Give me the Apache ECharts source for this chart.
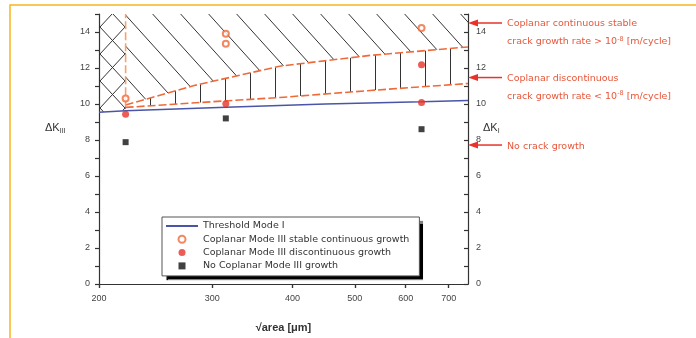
<!DOCTYPE html>
<html lang="en">
<head>
    <meta charset="UTF-8">
    <title>Crack growth map</title>
    <style>
        html, body { margin: 0; padding: 0; background: #fff; }
        #main { width: 696px; height: 338px; }
    </style>
</head>
<body>
    <div id="main"></div>
    <script src="https://cdn.jsdelivr.net/npm/echarts@6/dist/echarts.min.js"></script>
    <script>
        // values: x = sqrt(area) [um], y = delta K
        const xTicks = [200, 300, 400, 500, 600, 700];
        const yLabels = [0, 2, 4, 6, 8, 10, 12, 14];
        const threshold = [[200, 9.54], [220, 9.62], [315, 9.82], [450, 10.0], [635, 10.13], [750, 10.2]];
        const stableGrowth = [[220, 10.3], [315, 13.9], [315, 13.35], [635, 14.22]];
        const discGrowth = [[220, 9.43], [315, 10.02], [635, 12.18], [635, 10.09]];
        const noGrowth = [[220, 7.88], [315, 9.2], [635, 8.6]];
        const upperBound = [[220, 9.95], [283, 11.05], [382, 12.1], [528, 12.7], [750, 13.17]];
        const lowerBound = [[220, 9.81], [283, 10.07], [382, 10.36], [528, 10.75], [750, 11.14]];
        const leftBound = [[220, 9.88], [220, 15]];
        const crossBound = [[200, 9.54], [220, 9.65]];
        const noteLevels = [14.5, 11.47, 7.72];
        const noteTexts = [
            ['Coplanar continuous stable', 'crack growth rate > 10{sup|-8} [m/cycle]'],
            ['Coplanar discontinuous', 'crack growth rate < 10{sup|-8} [m/cycle]'],
            ['No crack growth']
        ];
        const legendNames = [
            'Threshold Mode I',
            'Coplanar Mode III stable continuous growth',
            'Coplanar Mode III discontinuous growth',
            'No Coplanar Mode III growth'
        ];

        const xMin = 200, xMax = 750, yMax = 15;
        const orange = '#ef6a3a';
        const red = '#e8322a';
        const blue = '#4a55a8';
        const font = 'Liberation Sans, Arial, sans-serif';
        const wideFont = 'DejaVu Sans, Verdana, sans-serif';

        function hatch(w, h, draw) {
            const c = document.createElement('canvas');
            c.width = w; c.height = h;
            const ctx = c.getContext('2d');
            ctx.strokeStyle = '#333';
            ctx.lineWidth = 1;
            ctx.beginPath();
            draw(ctx, w, h);
            ctx.stroke();
            return { image: c, repeat: 'repeat' };
        }
        const diagFill = hatch(28, 31, (ctx, w, h) => {
            for (let k = -1; k <= 1; k++) { ctx.moveTo(k * w, 0); ctx.lineTo(k * w + w, h); }
        });
        const vertFill = hatch(25, 4, (ctx, w, h) => {
            ctx.moveTo(0.5, 0); ctx.lineTo(0.5, h);
        });
        const crossFill = hatch(25, 27, (ctx, w, h) => {
            ctx.moveTo(0, 0); ctx.lineTo(w, h);
            ctx.moveTo(w, 0); ctx.lineTo(0, h);
        });

        function region(points, fill) {
            return {
                type: 'custom',
                silent: true,
                z: 1,
                data: [points[0]],
                renderItem: function (params, api) {
                    if (params.dataIndex !== 0) return;
                    return {
                        type: 'polygon',
                        shape: { points: points.map(p => api.coord(p)) },
                        style: { fill: fill, stroke: null }
                    };
                }
            };
        }

        const stablePoly = [[upperBound[0][0], yMax]].concat(upperBound, [[xMax, yMax]]);
        const discPoly = upperBound.concat(lowerBound.slice().reverse());
        const crossPoly = crossBound.concat([[crossBound[1][0], yMax], [crossBound[0][0], yMax]]);

        const axisText = { fontSize: 9, color: '#444', fontFamily: font };
        const lineStyle = { color: '#333', width: 1.2 };

        // two stacked legends: the lower one carries the drop shadow, the upper one the border
        const legendBase = {
            left: 162, top: 217, orient: 'vertical',
            padding: [4, 10, 5, 3], itemGap: 3.3, itemWidth: 32, itemHeight: 7,
            textStyle: { fontSize: 9.5, color: '#333', fontFamily: wideFont },
            data: [{ name: legendNames[0], itemStyle: { opacity: 0 } }].concat(legendNames.slice(1))
        };

        var chartDom = document.getElementById('main');
        var myChart = echarts.init(chartDom);
        var option = {
            animation: false,
            grid: { left: 99, right: 228, top: 14, bottom: 51 },
            xAxis: [
                {
                    type: 'log', logBase: 10, min: xMin, max: xMax,
                    name: '\u221Aarea [\u03BCm]', nameLocation: 'middle', nameGap: 38,
                    nameTextStyle: { fontSize: 11, color: '#333', fontFamily: font, fontWeight: 'bold' },
                    axisLine: { lineStyle: lineStyle },
                    axisTick: { customValues: xTicks, length: 4, lineStyle: lineStyle },
                    axisLabel: Object.assign({ customValues: xTicks, margin: 10 }, axisText),
                    splitLine: { show: false }, minorTick: { show: false }
                },
                {
                    type: 'log', logBase: 10, min: xMin, max: xMax, position: 'top',
                    axisLine: { lineStyle: lineStyle },
                    axisTick: { customValues: xTicks, inside: true, length: 4, lineStyle: lineStyle },
                    axisLabel: { show: false },
                    splitLine: { show: false }
                }
            ],
            yAxis: [
                {
                    type: 'value', min: 0, max: yMax, interval: 1,
                    axisLine: { show: true, lineStyle: lineStyle },
                    axisTick: { show: true, length: 4, lineStyle: lineStyle },
                    axisLabel: Object.assign({ customValues: yLabels, margin: 9 }, axisText),
                    splitLine: { show: false }
                },
                {
                    type: 'value', min: 0, max: yMax, interval: 1, position: 'right',
                    axisLine: { show: true, lineStyle: lineStyle },
                    axisTick: { show: true, inside: true, length: 4, lineStyle: lineStyle },
                    axisLabel: Object.assign({ customValues: yLabels, margin: 8 }, axisText),
                    splitLine: { show: false }
                }
            ],
            legend: [
                Object.assign({}, legendBase, {
                    z: 4,
                    backgroundColor: '#fff', borderColor: 'rgba(0,0,0,0)', borderWidth: 1, borderRadius: 0,
                    shadowColor: '#000', shadowBlur: 1, shadowOffsetX: 4, shadowOffsetY: 4
                }),
                Object.assign({}, legendBase, {
                    z: 5, silent: true,
                    backgroundColor: 'rgba(0,0,0,0)', borderColor: '#555', borderWidth: 1, borderRadius: 0,
                    itemStyle: { opacity: 0 }, lineStyle: { opacity: 0 },
                    textStyle: { fontSize: 9.5, color: 'rgba(0,0,0,0)', fontFamily: wideFont }
                })
            ],
            series: [
                region(crossPoly, crossFill),
                region(stablePoly, diagFill),
                region(discPoly, vertFill),
                {
                    type: 'line', data: upperBound, symbol: 'none', z: 3, silent: true,
                    lineStyle: { color: orange, width: 1.6, type: [8, 3] }
                },
                {
                    type: 'line', data: lowerBound, symbol: 'none', z: 3, silent: true,
                    lineStyle: { color: orange, width: 1.6, type: [8, 3] }
                },
                {
                    type: 'line', data: leftBound, symbol: 'none', z: 3, silent: true,
                    lineStyle: { color: '#f4a070', width: 1.6, type: [8, 3] }
                },
                {
                    name: legendNames[0], type: 'line', data: threshold, symbol: 'none', z: 4,
                    itemStyle: { color: blue },
                    lineStyle: { color: blue, width: 1.5 }
                },
                {
                    name: legendNames[1], type: 'scatter', z: 5,
                    data: stableGrowth, symbol: 'emptyCircle', symbolSize: 6,
                    itemStyle: { color: orange, borderColor: orange, borderWidth: 1.2 }
                },
                {
                    name: legendNames[2], type: 'scatter', z: 5,
                    data: discGrowth, symbol: 'circle', symbolSize: 7,
                    itemStyle: { color: red }
                },
                {
                    name: legendNames[3], type: 'scatter', z: 5,
                    data: noGrowth, symbol: 'path://M0,0L1,0L1,1L0,1Z', symbolSize: 6,
                    itemStyle: { color: '#111' }
                }
            ]
        };
        option && myChart.setOption(option);

        // annotations right of the plot, placed from the axis scale
        const axisX = myChart.convertToPixel({ xAxisIndex: 0 }, xMax);
        const graphics = [
            {
                type: 'rect', z: -1, silent: true,
                shape: { x: 10, y: 5, width: 720, height: 400 },
                style: { fill: null, stroke: '#f6b51e', lineWidth: 1.5 }
            },
            {
                type: 'text', x: 45, y: 128,
                style: {
                    text: '\u0394K{sub|III}', fill: '#333', font: '11px ' + font, verticalAlign: 'middle',
                    rich: { sub: { fontSize: 7, fontFamily: font, verticalAlign: 'bottom', padding: [6, 0, 0, 0] } }
                }
            },
            {
                type: 'text', x: axisX + 15, y: 128,
                style: {
                    text: '\u0394K{sub|I}', fill: '#333', font: '11px ' + font, verticalAlign: 'middle',
                    rich: { sub: { fontSize: 7, fontFamily: font, verticalAlign: 'bottom', padding: [6, 0, 0, 0] } }
                }
            }
        ];
        noteLevels.forEach(function (lv, i) {
            const y = myChart.convertToPixel({ yAxisIndex: 0 }, lv);
            graphics.push({
                type: 'polygon', z: 10, silent: true,
                shape: { points: [[axisX, y], [axisX + 10, y - 3.5], [axisX + 10, y + 3.5]] },
                style: { fill: red }
            });
            graphics.push({
                type: 'line', z: 10, silent: true,
                shape: { x1: axisX + 8, y1: y, x2: axisX + 34, y2: y },
                style: { stroke: red, lineWidth: 1.5 }
            });
            noteTexts[i].forEach(function (t, j) {
                graphics.push({
                    type: 'text', x: axisX + 39, y: y + 1 + j * 18,
                    style: {
                        text: t, fill: '#e8563a', font: '9.5px ' + wideFont, verticalAlign: 'middle',
                        rich: { sup: { fontSize: 6.5, fontFamily: wideFont, fill: '#e8563a', verticalAlign: 'top', padding: [0, 0, 6, 0] } }
                    }
                });
            });
        });
        myChart.setOption({ graphic: graphics });
    </script>
</body>
</html>
